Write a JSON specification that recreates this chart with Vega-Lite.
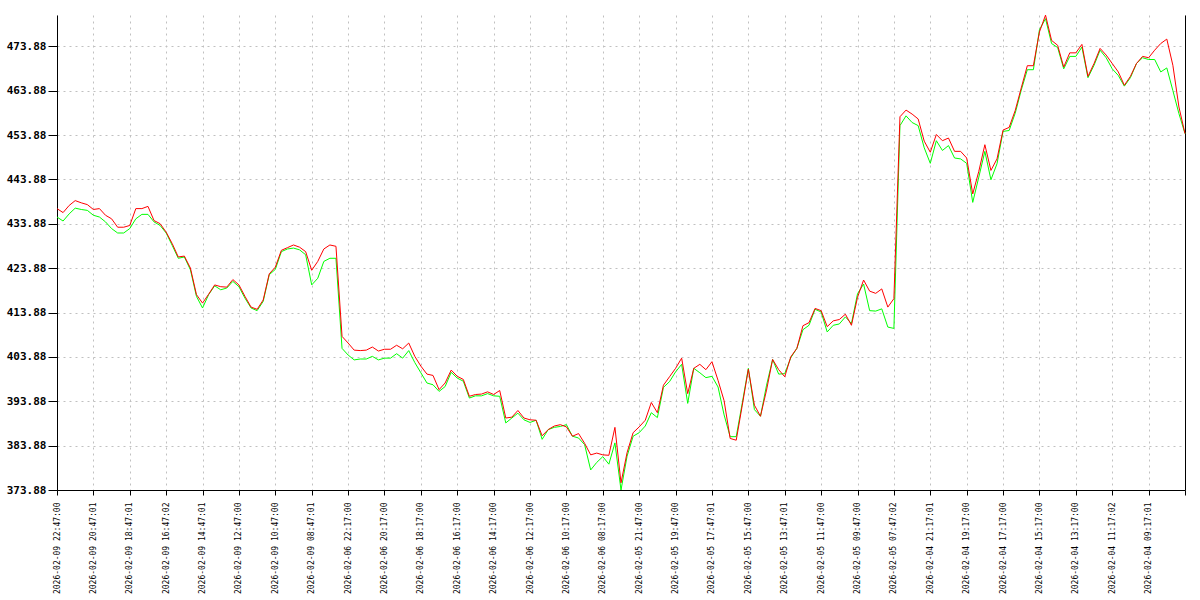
{
  "$schema": "https://vega.github.io/schema/vega-lite/v6.json",
  "width": 1128,
  "height": 475,
  "autosize": {"type": "none"},
  "padding": {"left": 57, "top": 15, "right": 15, "bottom": 110},
  "background": "white",
  "config": {"view": {"stroke": null}},
  "data": {"values": [
    {"i":0,"r":437.3,"g":435.4},{"i":1,"r":436.4,"g":434.5},{"i":2,"r":438.0,"g":436.1},{"i":3,"r":439.1,"g":437.4},{"i":4,"r":438.6,"g":437.1},
    {"i":5,"r":438.2,"g":436.9},{"i":6,"r":437.1,"g":435.8},{"i":7,"r":437.3,"g":435.4},{"i":8,"r":435.8,"g":434.3},{"i":9,"r":435.0,"g":432.8},
    {"i":10,"r":433.1,"g":431.8},{"i":11,"r":433.1,"g":431.8},{"i":12,"r":433.5,"g":432.8},{"i":13,"r":437.3,"g":435.0},{"i":14,"r":437.3,"g":436.0},
    {"i":15,"r":437.8,"g":436.0},{"i":16,"r":434.6,"g":434.3},{"i":17,"r":433.9,"g":433.5},{"i":18,"r":432.0,"g":431.8},{"i":19,"r":429.4,"g":429.0},
    {"i":20,"r":426.4,"g":426.1},{"i":21,"r":426.6,"g":426.4},{"i":22,"r":423.9,"g":423.5},{"i":23,"r":417.9,"g":417.5},{"i":24,"r":416.0,"g":414.9},
    {"i":25,"r":418.0,"g":417.9},{"i":26,"r":420.1,"g":419.9},{"i":27,"r":419.7,"g":419.0},{"i":28,"r":419.6,"g":419.4},{"i":29,"r":421.3,"g":420.9},
    {"i":30,"r":420.1,"g":419.7},{"i":31,"r":417.5,"g":417.1},{"i":32,"r":415.1,"g":414.9},{"i":33,"r":414.6,"g":414.3},{"i":34,"r":416.7,"g":416.4},
    {"i":35,"r":422.6,"g":422.4},{"i":36,"r":424.1,"g":423.6},{"i":37,"r":427.9,"g":427.6},{"i":38,"r":428.5,"g":428.2},{"i":39,"r":429.1,"g":428.4},
    {"i":40,"r":428.6,"g":428.0},{"i":41,"r":427.6,"g":426.9},{"i":42,"r":423.4,"g":420.1},{"i":43,"r":425.4,"g":421.6},{"i":44,"r":428.2,"g":425.4},
    {"i":45,"r":429.1,"g":426.1},{"i":46,"r":428.8,"g":426.1},{"i":47,"r":408.5,"g":405.8},{"i":48,"r":407.0,"g":404.3},{"i":49,"r":405.4,"g":403.2},
    {"i":50,"r":405.3,"g":403.4},{"i":51,"r":405.4,"g":403.4},{"i":52,"r":406.1,"g":404.0},{"i":53,"r":405.2,"g":403.2},{"i":54,"r":405.6,"g":403.6},
    {"i":55,"r":405.6,"g":403.6},{"i":56,"r":406.5,"g":404.6},{"i":57,"r":405.7,"g":403.6},{"i":58,"r":407.0,"g":405.3},{"i":59,"r":404.0,"g":402.6},
    {"i":60,"r":401.8,"g":400.3},{"i":61,"r":400.0,"g":398.0},{"i":62,"r":399.7,"g":397.6},{"i":63,"r":396.5,"g":396.1},{"i":64,"r":398.0,"g":397.2},
    {"i":65,"r":400.9,"g":400.4},{"i":66,"r":399.5,"g":399.1},{"i":67,"r":398.8,"g":398.4},{"i":68,"r":395.0,"g":394.6},{"i":69,"r":395.4,"g":395.1},
    {"i":70,"r":395.5,"g":395.1},{"i":71,"r":396.0,"g":395.6},{"i":72,"r":395.4,"g":395.1},{"i":73,"r":396.3,"g":395.0},{"i":74,"r":390.1,"g":389.0},
    {"i":75,"r":390.3,"g":390.1},{"i":76,"r":391.8,"g":391.2},{"i":77,"r":390.1,"g":389.7},{"i":78,"r":389.7,"g":389.1},{"i":79,"r":389.6,"g":389.6},
    {"i":80,"r":386.1,"g":385.3},{"i":81,"r":387.5,"g":387.5},{"i":82,"r":388.3,"g":388.0},{"i":83,"r":388.6,"g":388.2},{"i":84,"r":388.1,"g":388.6},
    {"i":85,"r":386.0,"g":386.0},{"i":86,"r":386.6,"g":385.6},{"i":87,"r":384.4,"g":384.1},{"i":88,"r":381.8,"g":378.4},{"i":89,"r":382.2,"g":380.1},
    {"i":90,"r":381.8,"g":381.4},{"i":91,"r":381.7,"g":379.7},{"i":92,"r":388.0,"g":384.5},{"i":93,"r":375.5,"g":373.88},{"i":94,"r":382.3,"g":381.5},
    {"i":95,"r":386.8,"g":386.0},{"i":96,"r":388.1,"g":386.8},{"i":97,"r":389.6,"g":388.3},{"i":98,"r":393.6,"g":391.3},{"i":99,"r":391.3,"g":390.2},
    {"i":100,"r":397.5,"g":397.0},{"i":101,"r":399.4,"g":398.3},{"i":102,"r":401.3,"g":400.5},{"i":103,"r":403.6,"g":402.2},{"i":104,"r":395.6,"g":393.4},
    {"i":105,"r":401.3,"g":401.3},{"i":106,"r":402.2,"g":400.3},{"i":107,"r":401.0,"g":399.2},{"i":108,"r":402.8,"g":399.5},{"i":109,"r":398.6,"g":397.1},
    {"i":110,"r":394.0,"g":390.8},{"i":111,"r":385.5,"g":385.9},{"i":112,"r":385.1,"g":385.9},{"i":113,"r":393.0,"g":393.5},{"i":114,"r":401.1,"g":401.3},
    {"i":115,"r":393.0,"g":392.0},{"i":116,"r":390.5,"g":390.5},{"i":117,"r":396.4,"g":397.5},{"i":118,"r":403.3,"g":403.3},{"i":119,"r":401.0,"g":400.0},
    {"i":120,"r":399.4,"g":400.1},{"i":121,"r":403.9,"g":403.7},{"i":122,"r":405.8,"g":405.8},{"i":123,"r":410.9,"g":410.0},{"i":124,"r":411.6,"g":411.0},
    {"i":125,"r":414.8,"g":414.6},{"i":126,"r":414.3,"g":414.0},{"i":127,"r":410.7,"g":409.5},{"i":128,"r":412.0,"g":411.0},{"i":129,"r":412.3,"g":411.3},
    {"i":130,"r":413.5,"g":412.9},{"i":131,"r":411.0,"g":411.4},{"i":132,"r":417.3,"g":418.1},{"i":133,"r":421.2,"g":420.3},{"i":134,"r":418.7,"g":414.3},
    {"i":135,"r":418.2,"g":414.2},{"i":136,"r":419.2,"g":414.7},{"i":137,"r":415.1,"g":410.6},{"i":138,"r":417.0,"g":410.3},{"i":139,"r":458.0,"g":456.0},
    {"i":140,"r":459.5,"g":458.2},{"i":141,"r":458.6,"g":456.7},{"i":142,"r":457.5,"g":456.0},{"i":143,"r":452.5,"g":451.0},{"i":144,"r":450.0,"g":447.5},
    {"i":145,"r":454.0,"g":452.6},{"i":146,"r":452.6,"g":450.4},{"i":147,"r":453.2,"g":451.5},{"i":148,"r":450.2,"g":448.7},{"i":149,"r":450.2,"g":448.5},
    {"i":150,"r":448.7,"g":447.5},{"i":151,"r":440.6,"g":438.7},{"i":152,"r":445.7,"g":444.4},{"i":153,"r":451.7,"g":450.2},{"i":154,"r":445.9,"g":443.8},
    {"i":155,"r":448.5,"g":447.4},{"i":156,"r":455.0,"g":454.7},{"i":157,"r":455.6,"g":454.9},{"i":158,"r":459.4,"g":458.8},{"i":159,"r":464.5,"g":464.0},
    {"i":160,"r":469.5,"g":468.6},{"i":161,"r":469.5,"g":468.6},{"i":162,"r":477.1,"g":477.6},{"i":163,"r":480.9,"g":480.1},{"i":164,"r":475.2,"g":474.5},
    {"i":165,"r":474.1,"g":473.6},{"i":166,"r":469.2,"g":468.8},{"i":167,"r":472.4,"g":471.6},{"i":168,"r":472.4,"g":471.6},{"i":169,"r":474.3,"g":473.7},
    {"i":170,"r":467.1,"g":466.8},{"i":171,"r":470.0,"g":469.6},{"i":172,"r":473.4,"g":473.0},{"i":173,"r":471.9,"g":471.3},{"i":174,"r":470.0,"g":468.8},
    {"i":175,"r":468.1,"g":467.3},{"i":176,"r":465.1,"g":464.9},{"i":177,"r":467.1,"g":466.8},{"i":178,"r":470.0,"g":470.0},{"i":179,"r":471.6,"g":471.3},
    {"i":180,"r":471.3,"g":470.9},{"i":181,"r":473.0,"g":470.9},{"i":182,"r":474.5,"g":468.1},{"i":183,"r":475.5,"g":469.0},{"i":184,"r":469.6,"g":463.9},
    {"i":185,"r":460.2,"g":458.7},{"i":186,"r":454.2,"g":454.2}
  ]},
  "encoding": {
    "x": {
      "field": "i", "type": "quantitative",
      "scale": {"domain": [0, 186], "nice": false, "zero": false},
      "axis": {
        "title": null,
        "values": [0,6,12,18,24,30,36,42,48,54,60,66,72,78,84,90,96,102,108,114,120,126,132,138,144,150,156,162,168,174,180,186],
        "labelExpr": "['2026-02-09 22:47:00','2026-02-09 20:47:01','2026-02-09 18:47:01','2026-02-09 16:47:02','2026-02-09 14:47:01','2026-02-09 12:47:00','2026-02-09 10:47:00','2026-02-09 08:47:01','2026-02-06 22:17:00','2026-02-06 20:17:00','2026-02-06 18:17:00','2026-02-06 16:17:00','2026-02-06 14:17:00','2026-02-06 12:17:00','2026-02-06 10:17:00','2026-02-06 08:17:00','2026-02-05 21:47:00','2026-02-05 19:47:00','2026-02-05 17:47:01','2026-02-05 15:47:00','2026-02-05 13:47:01','2026-02-05 11:47:00','2026-02-05 09:47:00','2026-02-05 07:47:02','2026-02-04 21:17:01','2026-02-04 19:17:00','2026-02-04 17:17:00','2026-02-04 15:17:00','2026-02-04 13:17:00','2026-02-04 11:17:02','2026-02-04 09:17:01',''][round(datum.value/6)]",
        "labelAngle": -90,
        "labelFont": "DejaVu Sans Mono",
        "labelFontSize": 8,
        "labelColor": "#000000",
        "labelPadding": 7,
        "labelOverlap": false,
        "labelFlush": false,
        "tickColor": "#000000",
        "tickSize": 5,
        "domainColor": "#000000",
        "grid": true,
        "gridColor": "#c0c0c0",
        "gridDash": [2, 4]
      }
    }
  },
  "layer": [
    {
      "mark": {"type": "line", "color": "#00ff00", "strokeWidth": 1},
      "encoding": {
        "y": {
          "field": "g", "type": "quantitative",
          "scale": {"domain": [373.88, 480.93], "nice": false, "zero": false},
          "axis": {
            "title": null,
            "values": [373.88, 383.88, 393.88, 403.88, 413.88, 423.88, 433.88, 443.88, 453.88, 463.88, 473.88],
            "format": ".2f",
            "labelFont": "DejaVu Sans Mono",
            "labelFontWeight": "bold",
            "labelFontSize": 11,
            "labelColor": "#000000",
            "labelPadding": 2,
            "tickColor": "#000000",
            "tickSize": 9,
            "domainColor": "#000000",
            "grid": true,
            "gridColor": "#c0c0c0",
            "gridDash": [2, 4]
          }
        }
      }
    },
    {
      "mark": {"type": "line", "color": "#ff0000", "strokeWidth": 1},
      "encoding": {
        "y": {
          "field": "r", "type": "quantitative",
          "scale": {"domain": [373.88, 480.93], "nice": false, "zero": false},
          "axis": {
            "orient": "right",
            "title": null,
            "labels": false,
            "ticks": false,
            "grid": false,
            "domainColor": "#000000"
          }
        }
      }
    }
  ],
  "resolve": {"scale": {"y": "independent"}}
}
